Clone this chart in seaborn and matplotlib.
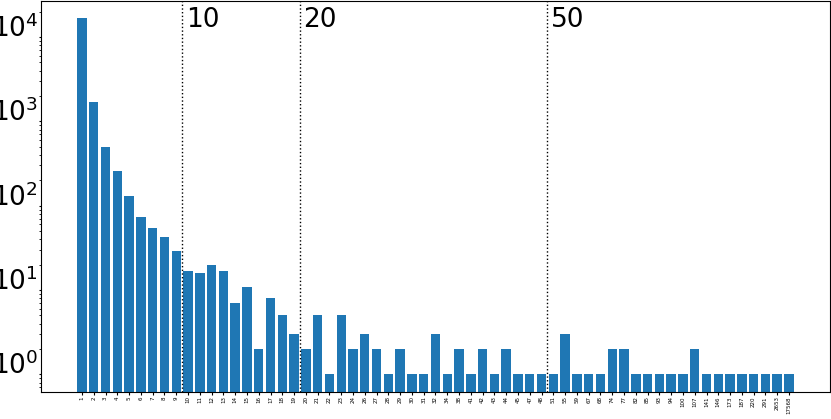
import pandas as pd
import seaborn as sns
import matplotlib
matplotlib.use("Agg")
import matplotlib.pyplot as plt

# category labels (group sizes) and how often each occurs
sizes = [1, 2, 3, 4, 5, 6, 7, 8, 9, 10, 11, 12, 13, 14, 15, 16, 17, 18, 19, 20,
         21, 22, 23, 24, 26, 27, 28, 29, 30, 31, 32, 34, 38, 41, 42, 43, 44, 45, 47, 48,
         51, 55, 59, 67, 68, 74, 77, 82, 85, 93, 94, 100, 107, 141, 146, 173, 187, 220,
         291, 2653, 17568]
counts = [16900, 1690, 500, 256, 129, 73, 55, 43, 29, 17, 16, 20, 17, 7, 11, 2, 8, 5, 3, 2,
          5, 1, 5, 2, 3, 2, 1, 2, 1, 1, 3, 1, 2, 1, 2, 1, 2, 1, 1, 1,
          1, 3, 1, 1, 1, 2, 2, 1, 1, 1, 1, 1, 2, 1, 1, 1, 1, 1,
          1, 1, 1]
thresholds = [10, 20, 50]

df = pd.DataFrame({"size": [str(s) for s in sizes], "count": counts})

fig, ax = plt.subplots(figsize=(8.31, 4.19), dpi=100)
fig.subplots_adjust(left=0.0493, right=0.9988, bottom=0.0644, top=0.9976)

sns.barplot(data=df, x="size", y="count", order=df["size"], color="#1f77b4",
            saturation=1, width=0.8, ax=ax)
ax.set_yscale("log")
ax.set_ylim(0.617, 26800)
ax.set_xlim(-3.48, len(sizes) - 1 + 3.48)

# dotted separators at the first size reaching each threshold
for t in thresholds:
    pos = next(i for i, s in enumerate(sizes) if s >= t) - 0.5
    ax.axvline(pos, color="black", linestyle=":", linewidth=1)
    ax.text(pos + 0.3, 0.985, str(t), transform=ax.get_xaxis_transform(),
            fontsize=19, va="top", ha="left")

ax.set_xlabel("")
ax.set_ylabel("")
ax.tick_params(axis="x", labelsize=4, labelrotation=90, length=1.8, pad=1.2)
ax.tick_params(axis="y", which="major", labelsize=19, length=1.8, pad=0.2)
ax.tick_params(axis="y", which="minor", length=1.2)
for lbl in ax.get_yticklabels():
    lbl.set_verticalalignment("baseline")

plt.savefig("out.png", dpi=100)
